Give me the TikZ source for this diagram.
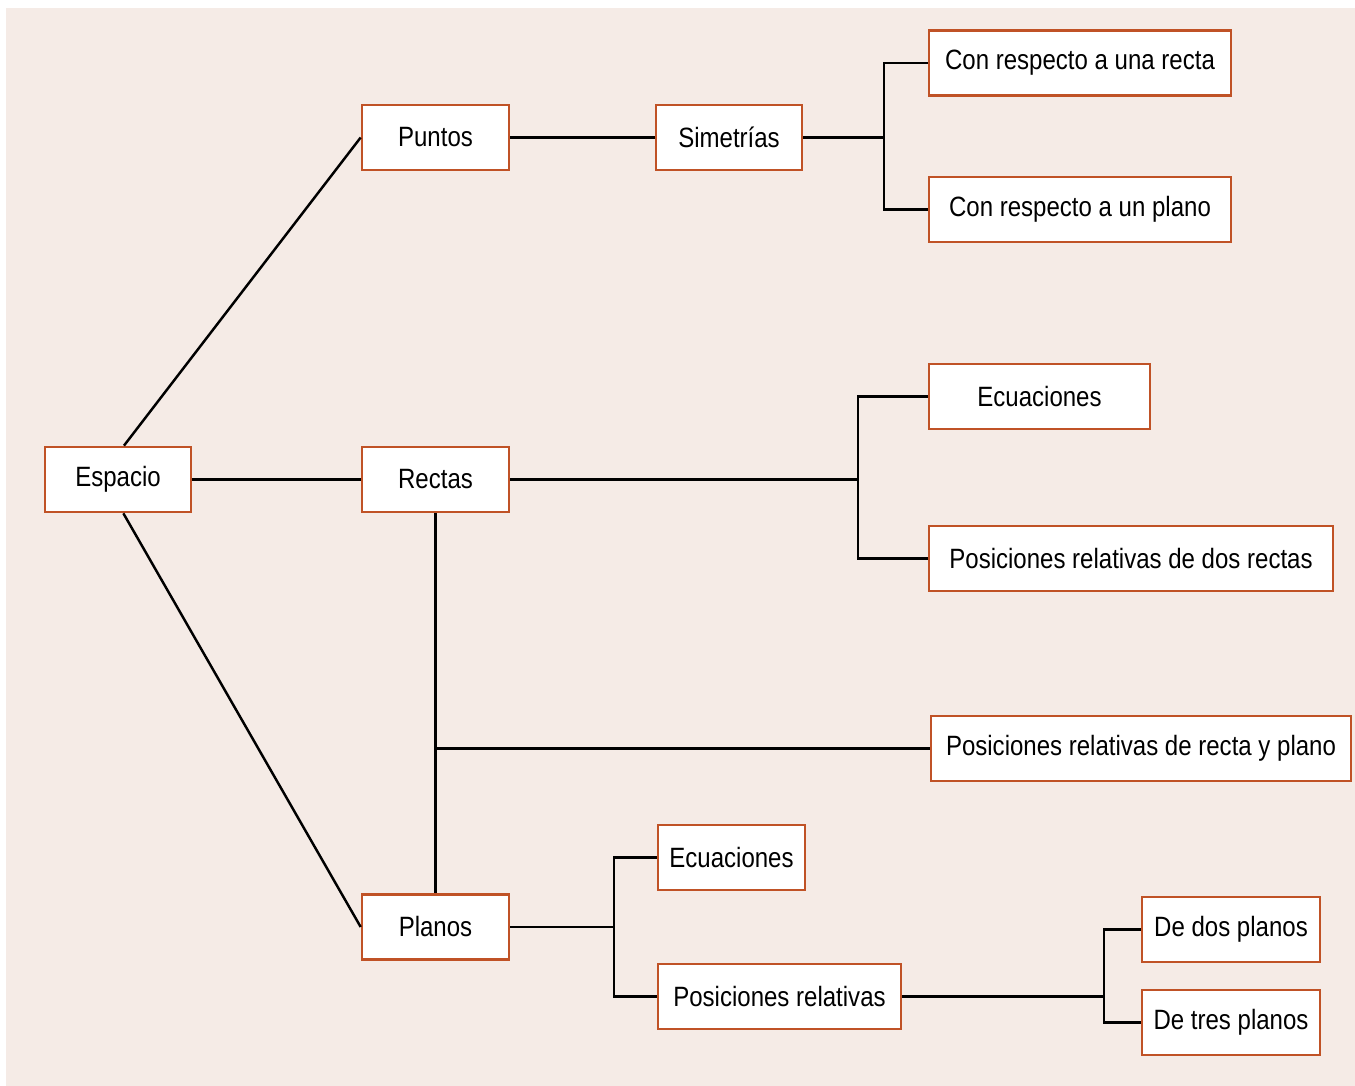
\documentclass[tikz,border=0pt]{standalone}
\usepackage{fontspec}
\setmainfont[FakeStretch=0.86]{Liberation Sans}
\usepackage{tikz}
\usetikzlibrary{positioning}
\definecolor{paper}{RGB}{245,235,230}
\definecolor{rust}{RGB}{192,82,38}
\tikzstyle{link} = [draw, line width=1.4pt, line join=miter]
\tikzstyle{box} = [rectangle, draw=rust, fill=white, line width=1.5pt,
  text centered, minimum height=1.3cm, inner sep=0pt,
  font=\fontsize{15.9}{19}\selectfont]

\begin{document}
\begin{tikzpicture}

    \useasboundingbox (0,0) rectangle (27.1,21.72);
    \fill [paper] (0.12,0) rectangle (27.1,21.56);

    \node [box, minimum width=2.92cm] at (2.36,12.13) (espacio) {Espacio};

    \node [box, minimum width=2.94cm] at (8.71,18.97) (puntos) {Puntos};
    \node [box, minimum width=2.94cm] at (8.71,12.13) (rectas) {Rectas};
    \node [box, minimum width=2.94cm] at (8.71,3.18) (planos) {Planos};

    % puntos
    \node [box, minimum width=2.92cm] at (14.58,18.97) (simetrias) {Simetrías};
    \node [box, minimum width=6.04cm] at (21.6,20.46) (conrecta) {Con respecto a una recta};
    \node [box, minimum width=6.04cm] at (21.6,17.53) (conplano) {Con respecto a un plano};

    % rectas
    \node [box, minimum width=4.42cm] at (20.79,13.79) (recuac) {Ecuaciones};
    \node [box, minimum width=8.08cm] at (22.62,10.55) (rposic) {Posiciones relativas de dos rectas};
    \node [box, minimum width=8.4cm] at (22.82,6.75) (rectaplano) {Posiciones relativas de recta y plano};

    % planos
    \node [box, minimum width=2.94cm] at (14.63,4.57) (pecuac) {Ecuaciones};
    \node [box, minimum width=4.86cm] at (15.59,1.79) (pposic) {Posiciones relativas};
    \node [box, minimum width=3.56cm] at (24.62,3.13) (dosplanos) {De dos planos};
    \node [box, minimum width=3.56cm] at (24.62,1.27) (tresplanos) {De tres planos};

    \coordinate (simfork) at (17.68,18.97);
    \coordinate (rfork) at (17.16,12.13);
    \coordinate (pfork) at (12.28,3.18);
    \coordinate (posfork) at (22.08,1.79);

    \draw [link] (espacio.80) -- (puntos.west);
    \draw [link] (espacio.east) -- (rectas.west);
    \draw [link] (espacio.-81) -- (planos.west);

    \draw [link] (puntos.east) -- (simetrias.west);
    \draw [link] (simetrias.east) -- (simfork);
    \draw [link] (conrecta.west) -| (simfork) |- (conplano.west);

    \draw [link] (rectas.east) -- (rfork);
    \draw [link] (recuac.west) -| (rfork) |- (rposic.west);

    \draw [link] (rectas.south) -- (planos.north);
    \draw [link] (rectas.south |- rectaplano.west) -- (rectaplano.west);

    \draw [link] (planos.east) -- (pfork);
    \draw [link] (pecuac.west) -| (pfork) |- (pposic.west);

    \draw [link] (pposic.east) -- (posfork);
    \draw [link] (dosplanos.west) -| (posfork) |- (tresplanos.west);

\end{tikzpicture}
\end{document}
